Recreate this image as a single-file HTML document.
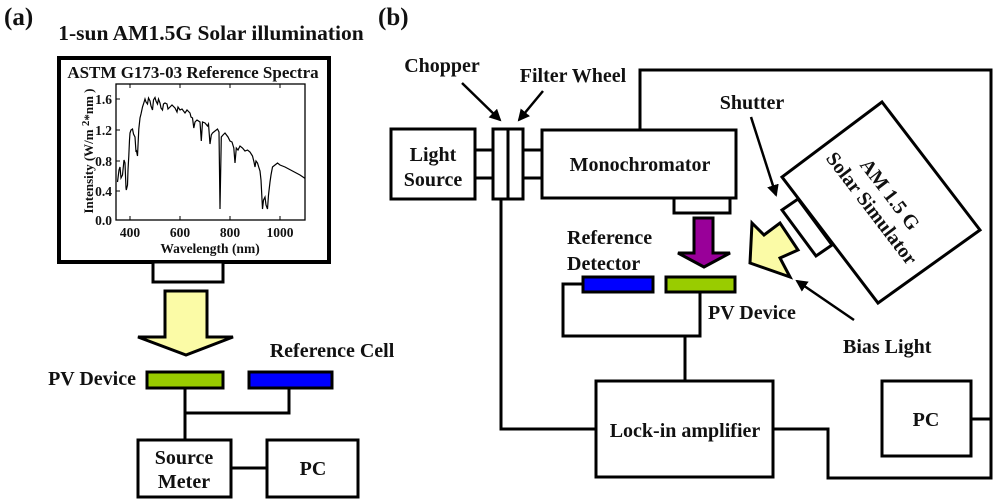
<!DOCTYPE html>
<html><head><meta charset="utf-8"><style>
html,body{margin:0;padding:0;background:#fff;}
svg{display:block;}
svg text{font-family:"Liberation Serif","Times New Roman",serif;font-weight:bold;fill:#111;}
</style></head><body>
<svg width="1000" height="503" viewBox="0 0 1000 503" xmlns="http://www.w3.org/2000/svg" font-family="Liberation Serif, serif" font-weight="bold">
<defs><marker id="ah2" markerWidth="12" markerHeight="12" refX="10" refY="6" orient="auto" markerUnits="userSpaceOnUse"><path d="M0,0 L12,6 L0,12 z" fill="#000"/></marker></defs>
<!-- Panel a -->
<text x="4" y="25" font-size="25">(a)</text>
<text x="211" y="40" font-size="21.5" text-anchor="middle">1-sun AM1.5G Solar illumination</text>
<rect x="59" y="58" width="270" height="204" fill="none" stroke="#000" stroke-width="4"/>
<text x="193" y="78" font-size="17" text-anchor="middle">ASTM G173-03 Reference Spectra</text>
<rect x="116" y="84" width="189" height="136" fill="none" stroke="#000" stroke-width="1.3"/>
<g stroke="#000" stroke-width="1">
<line x1="116" y1="99" x2="120" y2="99"/><line x1="116" y1="130" x2="120" y2="130"/><line x1="116" y1="161" x2="120" y2="161"/><line x1="116" y1="191" x2="120" y2="191"/>
<line x1="130" y1="220" x2="130" y2="216"/><line x1="180" y1="220" x2="180" y2="216"/><line x1="230" y1="220" x2="230" y2="216"/><line x1="280" y1="220" x2="280" y2="216"/>
<line x1="130" y1="84" x2="130" y2="88"/><line x1="180" y1="84" x2="180" y2="88"/><line x1="230" y1="84" x2="230" y2="88"/><line x1="280" y1="84" x2="280" y2="88"/>
</g>
<g font-size="13.5" text-anchor="end"><text x="112" y="104">1.6</text><text x="112" y="135">1.2</text><text x="112" y="166">0.8</text><text x="112" y="196">0.4</text><text x="112" y="225">0.0</text></g>
<g font-size="13.5" text-anchor="middle"><text x="130" y="237">400</text><text x="180" y="237">600</text><text x="230" y="237">800</text><text x="280" y="237">1000</text></g>
<text x="210" y="253" font-size="13.5" text-anchor="middle">Wavelength (nm)</text>
<text transform="translate(93,151) rotate(-90)" font-size="13" text-anchor="middle">Intensity  (W/m <tspan dy="-4" font-size="11">2</tspan><tspan dy="4">*nm )</tspan></text>
<polyline fill="none" stroke="#000" stroke-width="1.2" points="117.5,182 119,170 120,167 121,178 122.5,175 124,160 125,163 126,188 126.3,190 127.5,185 128,170 128.8,156 129.5,140 130,133 131,130 132.5,129 133.5,134 135,137 136,152 136.3,150 137.5,156 138.8,129 140,118 141,114 142.5,107 143.5,104 145,99 146,102 147.5,104 148.5,98 150,101 151,106 152.5,110 153.5,100 155,97.5 156,101 157.5,104 158.5,99 160,103 161,108 162.5,110 163.5,104 165,103 167,104 168,109 170,107 172,105 175,108 177,112 178,107 180,110 182,109 185,113 187,110 190,113 191,117 192.5,118 193.8,128 195,122 197,120 200,122 201.3,141 202.5,122 205,123 207.5,126 208.5,124 210,144 211.3,135 212.5,133 215,131 217.5,129 219,132 220,209 221.3,137 223,135 225,133 228,137 230,141 232,142 233.8,148 235,163 236.3,148 238,150 240,146 242.5,148 245,151 247.5,150 250,152 252.5,156 254,162 255,167 256,161 257.5,163 259,168 260,171 261,180 262.5,209 263.5,200 265,197 266,205 267.5,209 268.5,195 270,182 271,175 272.5,167 275,165 277.5,163 280,165 285,167 292.5,171 300,175 305,178.4"/>
<rect x="153" y="262" width="70" height="20" fill="#fff" stroke="#000" stroke-width="3"/>
<path d="M165,291 H207 V337 H233 L186,355 L138,337 H165 Z" fill="#fbfba6" stroke="#000" stroke-width="3"/>
<text x="136" y="385" font-size="20" text-anchor="end">PV Device</text>
<text x="332" y="357" font-size="20" text-anchor="middle">Reference Cell</text>
<rect x="147" y="372" width="76" height="16" fill="#99cc00" stroke="#000" stroke-width="3"/>
<rect x="249" y="372" width="83" height="16" fill="#0000ff" stroke="#000" stroke-width="3"/>
<path d="M185,388 V440 M185,413 H289 V388" fill="none" stroke="#000" stroke-width="3"/>
<rect x="138" y="440" width="93" height="57" fill="#fff" stroke="#000" stroke-width="3"/>
<rect x="267" y="440" width="91" height="57" fill="#fff" stroke="#000" stroke-width="3"/>
<line x1="231" y1="468" x2="267" y2="468" stroke="#000" stroke-width="3"/>
<text x="184" y="464" font-size="20" text-anchor="middle">Source</text>
<text x="184" y="488" font-size="20" text-anchor="middle">Meter</text>
<text x="313" y="475" font-size="20" text-anchor="middle">PC</text>
<!-- Panel b -->
<text x="378" y="25" font-size="25">(b)</text>
<g fill="none" stroke="#000" stroke-width="3">
<path d="M640,130 V70 H991 V478 H828 V429 H773"/>
<path d="M501,199 V429 H596"/>
<path d="M971,419 H991"/>
<path d="M475,150 H493 M475,178 H493 M523,150 H542 M523,178 H542"/>
<path d="M685,336 V381 M583,284 H563 V336 H700 V292"/>
</g>
<rect x="391" y="129" width="84" height="70" fill="#fff" stroke="#000" stroke-width="3"/>
<rect x="493" y="129" width="15" height="70" fill="#fff" stroke="#000" stroke-width="3"/>
<rect x="508" y="129" width="15" height="70" fill="#fff" stroke="#000" stroke-width="3"/>
<rect x="542" y="130" width="194" height="68" fill="#fff" stroke="#000" stroke-width="3"/>
<rect x="674" y="198" width="56" height="15" fill="#fff" stroke="#000" stroke-width="3"/>
<text x="433" y="161" font-size="20" text-anchor="middle">Light</text>
<text x="433" y="186" font-size="20" text-anchor="middle">Source</text>
<text x="640" y="171" font-size="20" text-anchor="middle">Monochromator</text>
<text x="442" y="72" font-size="20" text-anchor="middle">Chopper</text>
<text x="573" y="82" font-size="20" text-anchor="middle">Filter Wheel</text>
<text x="752" y="109" font-size="20" text-anchor="middle">Shutter</text>
<line x1="462" y1="83" x2="500" y2="120" stroke="#000" stroke-width="2.5" marker-end="url(#ah2)"/>
<line x1="543" y1="91" x2="519" y2="120" stroke="#000" stroke-width="2.5" marker-end="url(#ah2)"/>
<line x1="751" y1="117" x2="776" y2="195" stroke="#000" stroke-width="2.5" marker-end="url(#ah2)"/>
<line x1="854" y1="320" x2="797" y2="281" stroke="#000" stroke-width="2.5" marker-end="url(#ah2)"/>
<polygon points="882,102 980,230 878,303 782,177" fill="#fff" stroke="#000" stroke-width="3"/>
<polygon points="782,210 798,199 832,245 816,256" fill="#fff" stroke="#000" stroke-width="3"/>
<g transform="translate(880,202) rotate(52.6)" font-size="20" text-anchor="middle"><text x="0" y="-6">AM 1.5 G</text><text x="0" y="17">Solar Simulator</text></g>
<path d="M752,223 L764,235 L780,223 L798,250 L780,258 L790,277 L750,263 Z" fill="#fbfba6" stroke="#000" stroke-width="3"/>
<path d="M694,218 H713 V253 H730 L704,267 L678,253 H694 Z" fill="#990099" stroke="#000" stroke-width="3"/>
<text x="567" y="244" font-size="20">Reference</text>
<text x="567" y="270" font-size="20">Detector</text>
<rect x="583" y="277" width="70" height="15" fill="#0000ff" stroke="#000" stroke-width="3"/>
<rect x="666" y="277" width="69" height="15" fill="#99cc00" stroke="#000" stroke-width="3"/>
<text x="708" y="319" font-size="20">PV Device</text>
<text x="843" y="353" font-size="20">Bias Light</text>
<rect x="596" y="381" width="177" height="96" fill="#fff" stroke="#000" stroke-width="3"/>
<text x="685" y="437" font-size="20" text-anchor="middle">Lock-in amplifier</text>
<rect x="882" y="381" width="89" height="75" fill="#fff" stroke="#000" stroke-width="3"/>
<text x="926" y="426" font-size="20" text-anchor="middle">PC</text>
</svg>
</body></html>
